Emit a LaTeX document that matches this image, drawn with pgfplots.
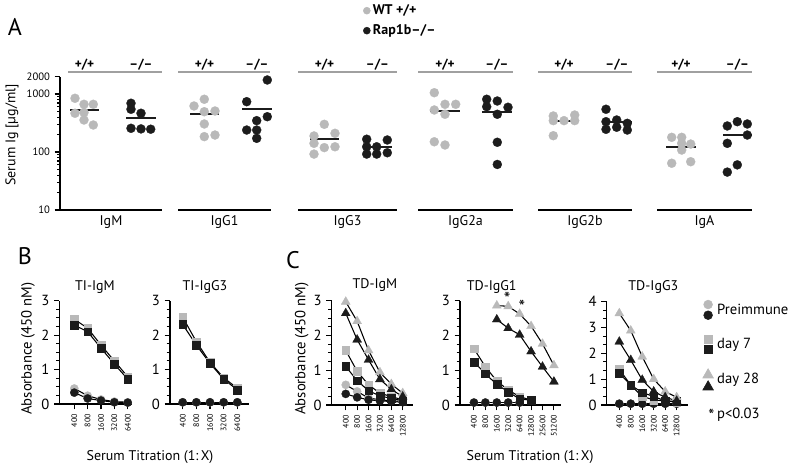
\documentclass[border=0pt]{standalone}
\usepackage{pgfplots}
\pgfplotsset{compat=1.18}
\usepackage{fontspec}
\setmainfont{PT Sans}
\definecolor{lg}{RGB}{185,185,185}
\definecolor{dk}{RGB}{28,28,28}
\definecolor{ln}{RGB}{160,160,160}
\tikzset{
  glab/.style={font=\bfseries\fontsize{10}{10}\selectfont},
  clab/.style={font=\fontsize{10.5}{10.5}\selectfont},
}
\pgfplotsset{
  /pgf/number format/assume math mode=true,
  titr/.style={scale only axis, axis lines=left, axis line style={-, line width=1pt},
    ymin=0, clip=false, tick align=outside, major tick length=4pt, minor tick length=2.5pt,
    tick style={black, line width=0.8pt},
    y tick label style={font=\fontsize{11}{11}\selectfont},
    x tick label style={rotate=90, anchor=east, font=\fontsize{6}{6}\selectfont},
    xtick pos=bottom, ytick pos=left},
  gsq/.style={black, line width=0.8pt, mark=square*, mark size=2.9pt, mark options={solid, draw=lg, fill=lg, line width=0.2pt}},
  bsq/.style={black, line width=0.8pt, mark=square*, mark size=2.9pt, mark options={solid, draw=dk, fill=dk, line width=0.2pt}},
  gci/.style={black, line width=0.8pt, mark=*, mark size=3.1pt, mark options={solid, draw=lg, fill=lg, line width=0.2pt}},
  bci/.style={black, line width=0.8pt, mark=*, mark size=3.1pt, mark options={solid, draw=dk, fill=dk, line width=0.2pt}},
  gtr/.style={black, line width=0.8pt, mark=triangle*, mark size=3.9pt, mark options={solid, draw=lg, fill=lg, line width=0.2pt}},
  btr/.style={black, line width=0.8pt, mark=triangle*, mark size=3.9pt, mark options={solid, draw=dk, fill=dk, line width=0.2pt}},
  gdot/.style={only marks, color=lg, mark=*, mark size=3.4pt, mark options={draw=lg, fill=lg, line width=0.2pt}},
  bdot/.style={only marks, color=dk, mark=*, mark size=3.4pt, mark options={draw=dk, fill=dk, line width=0.2pt}},
  mline/.style={dk, line width=1.5pt},
}
\begin{document}
\begin{tikzpicture}
\useasboundingbox (0,0) rectangle (600pt,352.5pt);
% ---------------- Panel A ----------------
\node[font=\fontsize{18}{18}\selectfont] at (11.25pt,332.25pt) {A};
\node[rotate=90, font=\fontsize{10.5}{10.5}\selectfont] at (9pt,251.25pt) {Serum Ig [µg/ml]};
\begin{axis}[
  at={(45pt,195pt)}, anchor=south west, scale only axis,
  width=525pt, height=100.1pt,
  xmin=60, xmax=760, ymode=log, ymin=10, ymax=2000,
  axis x line=none, axis y line=left, y axis line style={-, line width=1.2pt},
  ytick={10,100,1000,2000}, yticklabels={10,100,1000,2000},
  minor ytick={20,30,40,50,60,70,80,90,200,300,400,500,600,700,800,900},
  tick align=outside, major tick length=4pt, minor tick length=2.2pt,
  tick style={black, line width=0.8pt},
  yticklabel style={font=\fontsize{8}{8}\selectfont},
  clip=false,
  legend style={at={(0.433,1.56)}, anchor=north west, draw=none, fill=none,
    font=\bfseries\fontsize{10.5}{10.5}\selectfont, row sep=2pt, inner sep=0pt},
  legend cell align=left,
]
\addlegendimage{only marks, mark=*, mark size=2.6pt, mark options={draw=lg, fill=lg}}
\addlegendentry{WT +/+}
\addlegendimage{only marks, mark=*, mark size=2.6pt, mark options={draw=dk, fill=dk}}
\addlegendentry{Rap1b–/–}
% IgM
\addplot[gdot] coordinates {(75,843)(84,664)(93.3,664)(75,465)(84,480)(84,356)(93.3,292)};
\addplot[bdot] coordinates {(131,692)(131,545)(141,465)(131,256)(141,250)(150.7,247)};
\addplot[mline] coordinates {(70,530)(99,530)};
\addplot[mline] coordinates {(126,381)(156,381)};
% IgG1
\addplot[gdot] coordinates {(194,621)(204.3,811)(204.3,495)(215,509)(204.3,304)(204.3,184)(215,196)};
\addplot[bdot] coordinates {(267.3,1743)(246.7,737)(267.3,406)(256.7,347)(246.7,239)(256.7,239)(256.7,172)};
\addplot[mline] coordinates {(190,447)(219,447)};
\addplot[mline] coordinates {(242,545)(272,545)};
% IgG3
\addplot[gdot] coordinates {(324.3,300)(314,189)(335,210)(314,141)(324.3,119)(335,123)(314,92)};
\addplot[bdot] coordinates {(366.7,166)(387.3,161)(366.7,123)(376.7,123)(366.7,92)(376.7,92)(387.3,97)};
\addplot[mline] coordinates {(310,168)(339,168)};
\addplot[mline] coordinates {(363,123)(392,123)};
% IgG2a
\addplot[gdot] coordinates {(434.3,1052)(434.3,530)(445,664)(455.7,664)(445,447)(434.3,150)(445,132)};
\addplot[bdot] coordinates {(486.7,811)(497.3,757)(486.7,604)(508,590)(497.3,447)(497.3,147)(497.3,61)};
\addplot[mline] coordinates {(430,515)(460,515)};
\addplot[mline] coordinates {(482,487)(512,487)};
% IgG2b
\addplot[gdot] coordinates {(553.3,418)(553.3,347)(564,347)(574.7,434)(574.7,347)(553.3,191)};
\addplot[bdot] coordinates {(606,545)(606,333)(616.7,356)(627.3,312)(606,246)(616.7,267)(627.3,239)};
\addplot[mline] coordinates {(549,342)(579,342)};
\addplot[mline] coordinates {(602,325)(632,325)};
% IgA
\addplot[gdot] coordinates {(671.7,179)(681.7,179)(690.7,137)(681.7,108)(671.7,64)(690.7,68)(681.7,141)};
\addplot[bdot] coordinates {(727.3,281)(737.3,333)(747.3,304)(747.3,196)(727.3,141)(737.3,60)(727.3,45)};
\addplot[mline] coordinates {(666,122)(696,122)};
\addplot[mline] coordinates {(723,196)(752,196)};
% group decorations
\draw[ln, line width=1.5pt] (axis cs:68,2393) -- (axis cs:162,2393);
\draw[ln, line width=1.5pt] (axis cs:178,2393) -- (axis cs:270,2393);
\draw[ln, line width=1.5pt] (axis cs:298,2393) -- (axis cs:397,2393);
\draw[ln, line width=1.5pt] (axis cs:418,2393) -- (axis cs:513,2393);
\draw[ln, line width=1.5pt] (axis cs:538,2393) -- (axis cs:632,2393);
\draw[ln, line width=1.5pt] (axis cs:657,2393) -- (axis cs:752,2393);
\draw[black, line width=1.2pt] (axis cs:60,10) -- (axis cs:162,10);
\draw[black, line width=1.2pt] (axis cs:178,10) -- (axis cs:271,10);
\draw[black, line width=1.2pt] (axis cs:298,10) -- (axis cs:397,10);
\draw[black, line width=1.2pt] (axis cs:418,10) -- (axis cs:513,10);
\draw[black, line width=1.2pt] (axis cs:538,10) -- (axis cs:632,10);
\draw[black, line width=1.2pt] (axis cs:657,10) -- (axis cs:752,10);
\node[glab] at (axis cs:84.5,3162) {+/+};
\node[glab] at (axis cs:141,3162) {–/–};
\node[glab] at (axis cs:204.5,3162) {+/+};
\node[glab] at (axis cs:257,3162) {–/–};
\node[glab] at (axis cs:324.5,3162) {+/+};
\node[glab] at (axis cs:377.5,3162) {–/–};
\node[glab] at (axis cs:445,3162) {+/+};
\node[glab] at (axis cs:497,3162) {–/–};
\node[glab] at (axis cs:564,3162) {+/+};
\node[glab] at (axis cs:617,3162) {–/–};
\node[glab] at (axis cs:681,3162) {+/+};
\node[glab] at (axis cs:737.5,3162) {–/–};
\node[clab] at (axis cs:111,6.2) {IgM};
\node[clab] at (axis cs:224.5,6.2) {IgG1};
\node[clab] at (axis cs:347.5,6.2) {IgG3};
\node[clab] at (axis cs:465.5,6.2) {IgG2a};
\node[clab] at (axis cs:585,6.2) {IgG2b};
\node[clab] at (axis cs:704.5,6.2) {IgA};
\end{axis}
% ---------------- Panel B ----------------
\node[font=\fontsize{18}{18}\selectfont] at (18.75pt,160.3pt) {B};
\node[rotate=90, font=\fontsize{11}{11}\selectfont] at (21pt,91.1pt) {Absorbance (450 nM)};
\node[font=\fontsize{10.5}{10.5}\selectfont] at (112.5pt,10pt) {Serum Titration (1:\,X)};
\node[font=\fontsize{10.5}{10.5}\selectfont] at (71.25pt,137.25pt) {TI-IgM};
\node[font=\fontsize{10.5}{10.5}\selectfont] at (153.75pt,137.25pt) {TI-IgG3};
\begin{axis}[titr, at={(44.5pt,49.5pt)}, anchor=south west,
  width=54.3pt, height=77.5pt, xmin=-1.12, xmax=4.3, ymax=3,
  ytick={0,1,2,3}, minor y tick num=3,
  xtick={0,1,2,3,4}, xticklabels={400,800,1600,3200,6400}]
\addplot[gci] coordinates {(0,0.45)(1,0.24)(2,0.13)(3,0.07)(4,0.05)};
\addplot[bci] coordinates {(0,0.33)(1,0.16)(2,0.10)(3,0.05)(4,0.04)};
\addplot[gsq] coordinates {(0,2.46)(1,2.20)(2,1.71)(3,1.25)(4,0.79)};
\addplot[bsq] coordinates {(0,2.29)(1,2.10)(2,1.62)(3,1.16)(4,0.72)};
\end{axis}
\begin{axis}[titr, at={(127.5pt,49.5pt)}, anchor=south west,
  width=59.5pt, height=77.5pt, xmin=-0.93, xmax=4.88, ymax=3,
  ytick={0,1,2,3}, minor y tick num=3,
  xtick={0,1,2,3,4}, xticklabels={400,800,1600,3200,6400}]
\addplot[gci] coordinates {(0,0.05)(1,0.05)(2,0.05)(3,0.05)(4,0.05)};
\addplot[bci] coordinates {(0,0.05)(1,0.05)(2,0.05)(3,0.05)(4,0.05)};
\addplot[gsq] coordinates {(0,2.52)(1,1.81)(2,1.21)(3,0.76)(4,0.46)};
\addplot[bsq] coordinates {(0,2.31)(1,1.71)(2,1.18)(3,0.72)(4,0.41)};
\end{axis}
% ---------------- Panel C ----------------
\node[font=\fontsize{18}{18}\selectfont] at (219.75pt,157.5pt) {C};
\node[rotate=90, font=\fontsize{11}{11}\selectfont] at (226.3pt,91.1pt) {Absorbance (450 nM)};
\node[font=\fontsize{10.5}{10.5}\selectfont] at (397.5pt,10pt) {Serum Titration (1:\,X)};
\node[font=\fontsize{10.5}{10.5}\selectfont] at (281.25pt,138.75pt) {TD-IgM};
\node[font=\fontsize{10.5}{10.5}\selectfont] at (368.8pt,137.5pt) {TD-IgG1};
\node[font=\fontsize{10.5}{10.5}\selectfont] at (490pt,137.5pt) {TD-IgG3};
\begin{axis}[titr, at={(248.8pt,48.75pt)}, anchor=south west,
  width=60.75pt, height=78.2pt, xmin=-1.23, xmax=5.88, ymax=3,
  ytick={0,1,2,3}, minor y tick num=3,
  xtick={0,1,2,3,4,5}, xticklabels={400,800,1600,3200,6400,12800}]
\addplot[gci] coordinates {(0,0.58)(1,0.39)(2,0.20)(3,0.15)(4,0.12)(5,0.10)};
\addplot[bci] coordinates {(0,0.32)(1,0.22)(2,0.15)(3,0.12)(4,0.10)(5,0.08)};
\addplot[gsq] coordinates {(0,1.57)(1,0.97)(2,0.58)(3,0.34)(4,0.24)(5,0.15)};
\addplot[bsq] coordinates {(0,1.11)(1,0.70)(2,0.41)(3,0.26)(4,0.19)(5,0.12)};
\addplot[gtr] coordinates {(0,2.97)(1,2.41)(2,1.57)(3,0.94)(4,0.60)(5,0.34)};
\addplot[btr] coordinates {(0,2.64)(1,1.88)(2,1.30)(3,0.74)(4,0.45)(5,0.24)};
\end{axis}
\begin{axis}[titr, at={(345pt,48.75pt)}, anchor=south west,
  width=75.75pt, height=78.2pt, xmin=-1.22, xmax=7.62, ymax=3,
  ytick={0,1,2,3}, minor y tick num=3,
  xtick={0,1,2,3,4,5,6,7}, xticklabels={400,800,1600,3200,6400,12800,25600,51200}]
\addplot[gci] coordinates {(0,0.07)(1,0.07)(2,0.07)(3,0.07)(4,0.07)};
\addplot[bci] coordinates {(0,0.07)(1,0.07)(2,0.07)(3,0.07)(4,0.07)};
\addplot[gsq] coordinates {(0,1.62)(1,1.10)(2,0.69)(3,0.43)(4,0.24)(5,0.14)};
\addplot[bsq] coordinates {(0,1.24)(1,0.90)(2,0.59)(3,0.38)(4,0.17)(5,0.14)};
\addplot[gtr] coordinates {(2,2.86)(3,2.84)(4,2.62)(5,2.27)(6,1.76)(7,1.14)};
\addplot[btr] coordinates {(2,2.46)(3,2.21)(4,2.02)(5,1.54)(6,1.10)(7,0.67)};
\node[font=\fontsize{14}{14}\selectfont] at (axis cs:2.9,3.05) {*};
\node[font=\fontsize{14}{14}\selectfont] at (axis cs:4.2,2.83) {*};
\end{axis}
\begin{axis}[titr, at={(455pt,48.75pt)}, anchor=south west,
  width=60.75pt, height=77.5pt, xmin=-1.1, xmax=5.96, ymax=4,
  ytick={0,1,2,3,4}, minor y tick num=2,
  xtick={0,1,2,3,4,5}, xticklabels={400,800,1600,3200,6400,12800},
  legend style={at={(1.18,1.02)}, anchor=north west, draw=none, fill=none,
    font=\fontsize{11}{11}\selectfont, row sep=11pt, inner sep=0pt},
  legend cell align=left]
\addlegendimage{legend image code/.code={\fill[lg] (0.15cm,4pt) circle (3.3pt); \fill[dk] (0.15cm,-4pt) circle (3.3pt);}}
\addlegendentry{Preimmune}
\addlegendimage{legend image code/.code={\fill[lg] (0.15cm-3pt,1pt) rectangle (0.15cm+3pt,7pt); \fill[dk] (0.15cm-3pt,-7pt) rectangle (0.15cm+3pt,-1pt);}}
\addlegendentry{day 7}
\addlegendimage{legend image code/.code={\fill[lg] (0.15cm-4pt,1pt) -- (0.15cm+4pt,1pt) -- (0.15cm,8pt) -- cycle; \fill[dk] (0.15cm-4pt,-8pt) -- (0.15cm+4pt,-8pt) -- (0.15cm,-1pt) -- cycle;}}
\addlegendentry{day 28}
\addlegendimage{legend image code/.code={\node[inner sep=0pt, font=\fontsize{13}{13}\selectfont] at (0.15cm,-2pt) {*};}}
\addlegendentry{p<0.03}
\addplot[gci] coordinates {(0,0.05)(1,0.05)(2,0.05)(3,0.05)(4,0.05)(5,0.05)};
\addplot[bci] coordinates {(0,0.05)(1,0.05)(2,0.05)(3,0.05)(4,0.05)(5,0.05)};
\addplot[gsq] coordinates {(0,1.38)(1,0.77)(2,0.33)(3,0.20)(4,0.15)(5,0.12)};
\addplot[bsq] coordinates {(0,1.23)(1,0.77)(2,0.48)(3,0.33)(4,0.16)(5,0.14)};
\addplot[gtr] coordinates {(0,3.55)(1,2.88)(2,1.87)(3,1.00)(4,0.52)(5,0.30)};
\addplot[btr] coordinates {(0,2.45)(1,1.74)(2,0.97)(3,0.52)(4,0.30)(5,0.16)};
\end{axis}
\end{tikzpicture}
\end{document}
